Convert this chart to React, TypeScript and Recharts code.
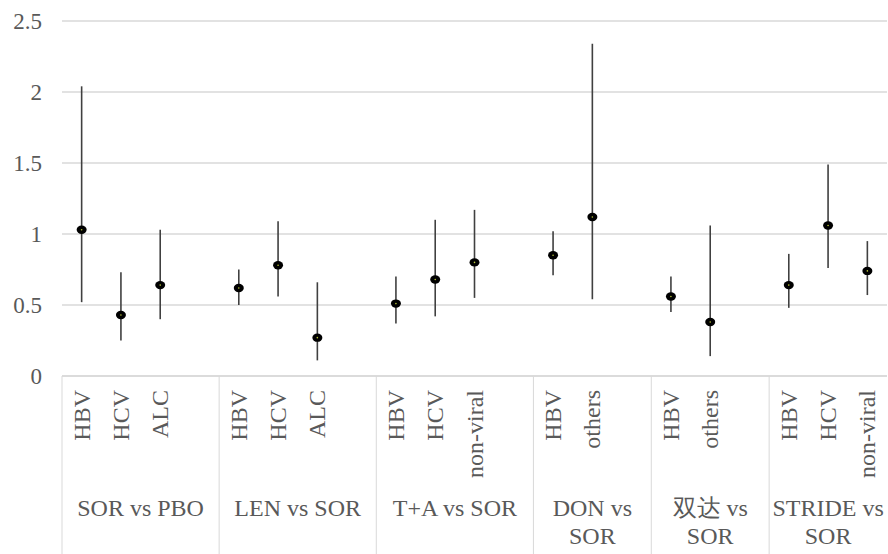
import React from "react";
import { ComposedChart, Line, ErrorBar, XAxis, YAxis, CartesianGrid } from "recharts";

const groupLines: string[][] = [
  ["SOR vs PBO"],
  ["LEN vs SOR"],
  ["T+A vs SOR"],
  ["DON vs", "SOR"],
  ["双达 vs", "SOR"],
  ["STRIDE vs", "SOR"],
];

const subgroups: string[][] = [
  ["HBV", "HCV", "ALC"],
  ["HBV", "HCV", "ALC"],
  ["HBV", "HCV", "non-viral"],
  ["HBV", "others"],
  ["HBV", "others"],
  ["HBV", "HCV", "non-viral"],
];

const estimates: number[][] = [
  [1.03, 0.43, 0.64],
  [0.62, 0.78, 0.27],
  [0.51, 0.68, 0.8],
  [0.85, 1.12],
  [0.56, 0.38],
  [0.64, 1.06, 0.74],
];

const lower: number[][] = [
  [0.52, 0.25, 0.4],
  [0.5, 0.56, 0.11],
  [0.37, 0.42, 0.55],
  [0.71, 0.54],
  [0.45, 0.14],
  [0.48, 0.76, 0.57],
];

const upper: number[][] = [
  [2.04, 0.73, 1.03],
  [0.75, 1.09, 0.66],
  [0.7, 1.1, 1.17],
  [1.02, 2.34],
  [0.7, 1.06],
  [0.86, 1.49, 0.95],
];

const yTicks = [0, 0.5, 1, 1.5, 2, 2.5];

type Slot = {
  key: string;
  group: number;
  first: boolean;
  span: number;
  sub: string;
  est: number | null;
  err?: [number, number];
};

// one slot per sub-category, plus an empty slot closing every group but the last
const slots: Slot[] = [];
subgroups.forEach((subs, g) => {
  const span = subs.length + (g < subgroups.length - 1 ? 1 : 0);
  subs.forEach((s, i) => {
    const est = estimates[g][i];
    slots.push({
      key: `g${g}-${i}`,
      group: g,
      first: i === 0,
      span,
      sub: s,
      est,
      err: [est - lower[g][i], upper[g][i] - est],
    });
  });
  if (g < subgroups.length - 1) {
    slots.push({ key: `g${g}-gap`, group: g, first: false, span, sub: "", est: null });
  }
});

const FONT = "'Liberation Serif', 'Times New Roman', Times, serif";
const TEXT = "#595959";
const GRID = "#d9d9d9";
const FS = 24;
const W = 888;
const H = 554;

function CategoryTick(props: any) {
  const { x, y, payload, index } = props;
  const slot = slots[index];
  if (!slot) return null;
  const cx = payload?.coordinate ?? x;
  const half = payload?.offset || 825 / slots.length / 2;
  const left = cx - half;
  const gcx = left + slot.span * half;
  return (
    <g>
      {slot.sub && (
        <text
          transform={`translate(${cx + 8},${y + 14}) rotate(-90)`}
          textAnchor="end"
          style={{ fontFamily: FONT, fontSize: FS }}
          fill={TEXT}
        >
          {slot.sub}
        </text>
      )}
      {slot.first && (
        <>
          <line x1={left} x2={left} y1={y} y2={H} stroke={GRID} strokeWidth={1} />
          {groupLines[slot.group].map((ln, i) => (
            <text
              key={i}
              x={gcx}
              y={y + 140 + i * 28}
              textAnchor="middle"
              style={{ fontFamily: FONT, fontSize: FS }}
              fill={TEXT}
            >
              {ln}
            </text>
          ))}
        </>
      )}
    </g>
  );
}

function Marker(props: any) {
  const { cx, cy, payload } = props;
  if (payload?.est == null || cx == null || cy == null) return <g />;
  return (
    <g>
      <ellipse cx={cx} cy={cy} rx={5} ry={4.2} fill="#000" />
      <circle cx={cx} cy={cy} r={0.8} fill="#b8c43c" />
    </g>
  );
}

export default function App() {
  return (
    <div
      style={{
        position: "absolute",
        left: 0,
        top: 0,
        width: W,
        height: H,
        background: "#fff",
        fontFamily: FONT,
      }}
    >
      <ComposedChart
        width={W}
        height={H}
        data={slots}
        margin={{ top: 21, right: 1, bottom: 0, left: 0 }}
      >
        <CartesianGrid vertical={false} stroke={GRID} strokeWidth={1.3} />
        <XAxis
          dataKey="key"
          scale="band"
          interval={0}
          height={178}
          tickLine={false}
          tickSize={0}
          tickMargin={0}
          axisLine={{ stroke: GRID, strokeWidth: 1.3 }}
          tick={<CategoryTick />}
        />
        <YAxis
          domain={[0, 2.5]}
          ticks={yTicks}
          width={62}
          axisLine={false}
          tickLine={false}
          tickSize={0}
          tickMargin={20}
          tick={{ fill: TEXT, fontSize: 23, style: { fontFamily: FONT } }}
        />
        <Line
          dataKey="est"
          stroke="none"
          dot={<Marker />}
          activeDot={false}
          isAnimationActive={false}
        >
          <ErrorBar dataKey="err" direction="y" width={0} stroke="#404040" strokeWidth={1.6} />
        </Line>
      </ComposedChart>
    </div>
  );
}
